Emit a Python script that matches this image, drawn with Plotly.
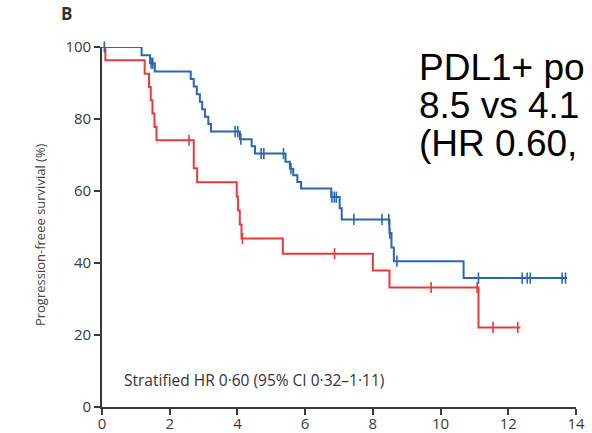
import plotly.graph_objects as go
import numpy as np

# ---- data ----
x_ticks = [0, 2, 4, 6, 8, 10, 12, 14]
y_ticks = [0, 20, 40, 60, 80, 100]

blue_times = [0, 1.17, 1.42, 1.56, 2.62, 2.71, 2.80, 2.89, 2.96, 3.04, 3.14, 3.22,
              4.07, 4.42, 4.52, 5.42, 5.55, 5.65, 5.77, 5.88, 6.77, 7.02, 7.08,
              8.49, 8.55, 8.62, 10.68, 13.74]
blue_surv = [100, 97.7, 95.5, 93.2, 91.1, 89.0, 86.9, 84.8, 82.7, 80.6, 78.6, 76.5,
             74.4, 72.4, 70.4, 68.1, 66.2, 64.4, 62.5, 60.7, 58.3, 55.2, 52.1,
             48.3, 44.3, 40.5, 35.8, 35.8]
blue_censor = [0.07, 1.45, 1.50, 3.93, 4.01, 4.10, 4.70, 4.78, 5.36, 5.58, 6.79, 6.86,
               6.92, 7.44, 8.27, 8.47, 8.50, 8.71, 11.12, 12.41, 12.56, 12.65, 13.59, 13.69]

red_times = [0, 0.10, 1.26, 1.39, 1.44, 1.49, 1.55, 1.61, 2.71, 2.81, 3.98, 4.02,
             4.07, 4.12, 5.34, 8.00, 8.49, 11.12, 12.36]
red_surv = [100, 96.3, 92.6, 88.9, 85.2, 81.5, 77.8, 74.1, 66.3, 62.4, 58.5, 54.6,
            50.7, 46.8, 42.6, 37.9, 33.2, 22.1, 22.1]
red_censor = [2.57, 4.15, 6.87, 9.72, 11.08, 11.55, 12.28]

BLUE = "#2b66b1"
RED = "#e63b3b"
AX = "#3a3a3a"


def step_value(times, surv, t):
    idx = np.searchsorted(np.array(times), t, side="right") - 1
    return surv[max(idx, 0)]


fig = go.Figure()
for times, surv, cens, col in [(red_times, red_surv, red_censor, RED),
                               (blue_times, blue_surv, blue_censor, BLUE)]:
    fig.add_trace(go.Scatter(x=times, y=surv, mode="lines", line=dict(color=col, width=2, shape="hv"),
                             cliponaxis=False, hoverinfo="skip", showlegend=False))
    fig.add_trace(go.Scatter(x=cens, y=[step_value(times, surv, c) for c in cens], mode="markers",
                             marker=dict(symbol="line-ns", size=8, line=dict(color=col, width=1.6)),
                             cliponaxis=False, hoverinfo="skip", showlegend=False))

tickfont = dict(family="Open Sans", size=15, color="#3a3a3a")
common = dict(showline=True, linecolor=AX, linewidth=1.6, ticks="outside", ticklen=6,
              tickwidth=1.5, tickcolor=AX, showgrid=False, zeroline=False, tickfont=tickfont,
              automargin=False)
fig.update_xaxes(range=[0, 14], tickvals=x_ticks, ticktext=[str(v) for v in x_ticks],
                 ticklabelstandoff=-4, **common)
fig.update_yaxes(range=[0, 100], tickvals=y_ticks, ticktext=[str(v) for v in y_ticks], **common)

annos = [
    dict(text="Progression-freee survivial (%)", x=-0.131, y=0.48, xref="paper", yref="paper",
         textangle=-90, showarrow=False, xanchor="center", yanchor="middle",
         font=dict(family="Open Sans", size=13, color="#444444")),
    dict(text="<b>B</b>", x=-0.074, y=1.093, xref="paper", yref="paper", showarrow=False,
         xanchor="center", yanchor="middle", font=dict(family="Open Sans", size=17, color="#333333")),
    dict(text="Stratified HR 0·60 (95% CI 0·32–1·11)", x=0.6, y=7.4, xref="x", yref="y",
         showarrow=False, xanchor="left", yanchor="middle",
         font=dict(family="Open Sans", size=15.5, color="#333333")),
]
big_lines = ["PDL1+ po", "8.5 vs 4.1", "(HR 0.60,"]
big_y = [0.9436, 0.8380, 0.7325]
for line, yy in zip(big_lines, big_y):
    annos.append(dict(text=line, x=0.665, y=yy, xref="paper", yref="paper",
                      showarrow=False, xanchor="left", yanchor="middle",
                      font=dict(family="Liberation Sans", size=37, color="#000000")))
fig.update_layout(annotations=annos, width=592, height=433,
                  margin=dict(l=102, r=16, t=47, b=26),
                  plot_bgcolor="white", paper_bgcolor="white")

fig.write_html("out.html", post_script="document.body.style.margin='0px';",
               config={"responsive": False, "displayModeBar": False})
